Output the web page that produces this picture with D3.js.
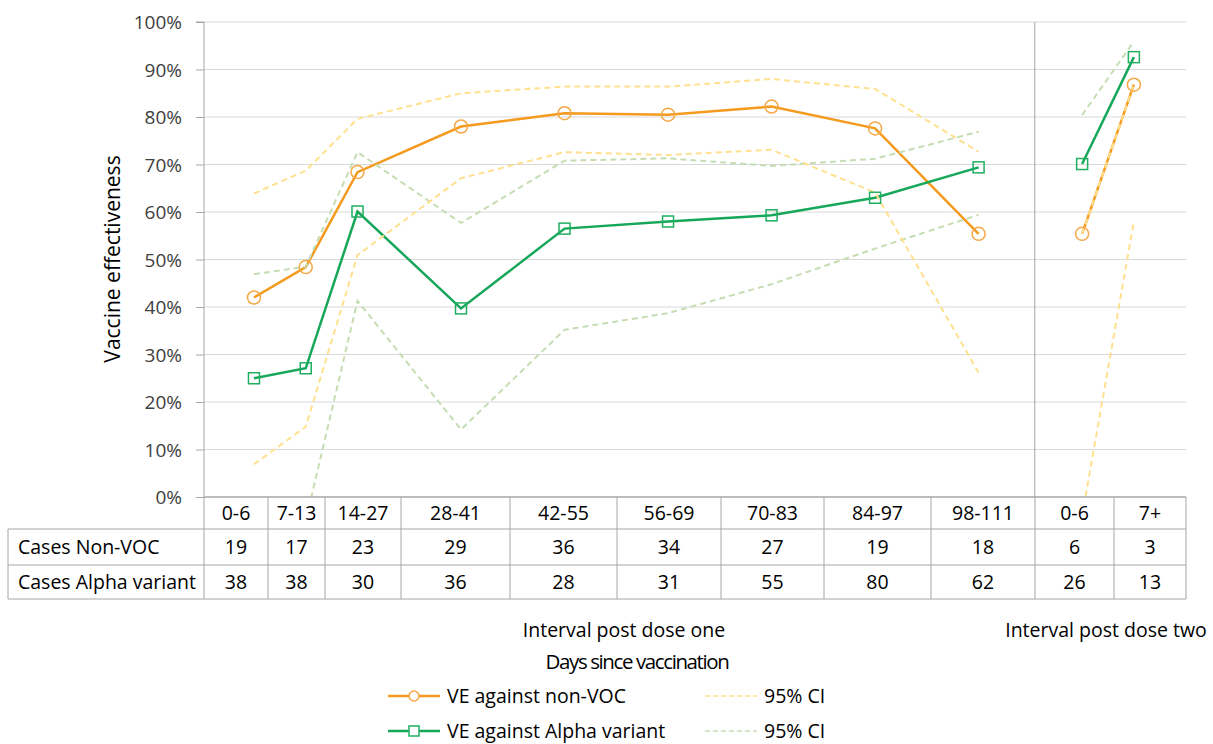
<!DOCTYPE html>
<html>
  <head>
    <meta charset="utf-8" />
    <script src="https://d3js.org/d3.v7.min.js"></script>
    <style>
        body {margin: 0; background: #fff;}
        text {font-family: "Open Sans", Lato, sans-serif;}
    </style>
  </head>
  <body>
    <svg id="viz"></svg>
    <script>
        var width = 1213, height = 744;

        // categories (days since vaccination) and their position on the day axis
        var intervals = ["0-6", "7-13", "14-27", "28-41", "42-55", "56-69", "70-83", "84-97", "98-111", "0-6", "7+"];
        var dayPos = [0, 7, 14, 28, 42, 56, 70, 84, 98, 112, 119];
        var dose = [1, 1, 1, 1, 1, 1, 1, 1, 1, 2, 2];

        // table values
        var casesNonVOC = [19, 17, 23, 29, 36, 34, 27, 19, 18, 6, 3];
        var casesAlpha = [38, 38, 30, 36, 28, 31, 55, 80, 62, 26, 13];

        // vaccine effectiveness (%)
        var veNonVOC = [42.0, 48.4, 68.4, 78.0, 80.8, 80.5, 82.2, 77.6, 55.4, 55.4, 86.8];
        var veNonVOCUpper = [63.9, 68.7, 79.6, 85.0, 86.4, 86.4, 88.0, 85.9, 72.7, 55.4, 86.8];
        var veNonVOCLower = [6.9, 14.8, 50.9, 67.1, 72.6, 72.0, 73.1, 64.1, 26.2, -4.0, 58.0];

        var veAlpha = [25.0, 27.1, 60.1, 39.7, 56.5, 58.0, 59.3, 63.0, 69.4, 70.1, 92.6];
        var veAlphaUpper = [46.9, 48.5, 72.6, 57.7, 70.8, 71.3, 69.7, 71.2, 76.9, 80.4, 95.9];
        var veAlphaLower = [-45.0, -5.0, 41.3, 14.2, 35.2, 38.7, 44.8, 52.3, 59.4, null, null];

        var yTicks = [0, 10, 20, 30, 40, 50, 60, 70, 80, 90, 100];

        // layout
        var plot = {left: 204, right: 1186, top: 22, bottom: 497};
        var colEdges = [204, 268, 325, 401, 510, 617, 721, 824, 931, 1035, 1114, 1186];
        var rowEdges = [497, 529, 565, 599];
        var tableLeft = 8;
        var doseSplitDay = 105.6;
        var fs = "19.5px";

        var orange = "#f39a1f", green = "#17a75a";
        var orangeCI = "#ffe08e", greenCI = "#c6ddb4";

        var svg = d3.select("#viz").attr("width", width).attr("height", height);

        var x = d3.scaleLinear().domain([-6.76, 126.05]).range([plot.left, plot.right]);
        var y = d3.scaleLinear().domain([0, 100]).range([plot.bottom, plot.top]);

        svg.append("defs").append("clipPath").attr("id", "clip")
            .append("rect")
            .attr("x", plot.left).attr("y", plot.top)
            .attr("width", plot.right - plot.left).attr("height", plot.bottom - plot.top);

        // gridlines
        svg.append("g").selectAll("line").data(yTicks.filter(function(d){ return d > 0; }))
            .enter().append("line")
            .attr("x1", plot.left).attr("x2", plot.right)
            .attr("y1", function(d){ return y(d); }).attr("y2", function(d){ return y(d); })
            .attr("stroke", "#d9d9d9").attr("stroke-width", 1);

        // y axis
        var yAxis = d3.axisLeft(y).tickValues(yTicks).tickSize(8).tickPadding(14)
            .tickFormat(function(d){ return d + "%"; });
        var ya = svg.append("g").attr("transform", "translate(" + plot.left + ",0)").call(yAxis);
        ya.select(".domain").attr("stroke", "#a6a6a6").attr("d", "M-8," + plot.top + "H0V" + plot.bottom);
        ya.selectAll(".tick line").attr("stroke", "#a6a6a6");
        ya.selectAll(".tick text").attr("fill", "#404040").style("font-size", "19px")
            .style("font-family", "'Open Sans', sans-serif").attr("dy", "0.35em");

        svg.append("text")
            .attr("transform", "translate(120," + 259 + ") rotate(-90)")
            .attr("text-anchor", "middle")
            .style("font-size", "21px").attr("fill", "#000")
            .text("Vaccine effectiveness");

        // separator between dose one and dose two
        svg.append("line")
            .attr("x1", x(doseSplitDay)).attr("x2", x(doseSplitDay))
            .attr("y1", plot.top).attr("y2", plot.bottom)
            .attr("stroke", "#a6a6a6").attr("stroke-width", 1);

        // series
        var idx = d3.range(intervals.length);
        var groups = [idx.filter(function(i){ return dose[i] === 1; }), idx.filter(function(i){ return dose[i] === 2; })];

        var chart = svg.append("g").attr("clip-path", "url(#clip)");

        function drawLine(values, color, w, dash) {
            var line = d3.line()
                .defined(function(i){ return values[i] !== null; })
                .x(function(i){ return x(dayPos[i]); })
                .y(function(i){ return y(values[i]); });
            groups.forEach(function(g) {
                chart.append("path")
                    .attr("d", line(g))
                    .attr("fill", "none")
                    .attr("stroke", color)
                    .attr("stroke-width", w)
                    .attr("stroke-dasharray", dash || null);
            });
        }

        drawLine(veNonVOC, orange, 2.5);
        drawLine(veAlpha, green, 2.5);
        drawLine(veAlphaUpper, greenCI, 2, "6,4");
        drawLine(veAlphaLower, greenCI, 2, "6,4");
        drawLine(veNonVOCUpper, orangeCI, 2, "6,4");
        drawLine(veNonVOCLower, orangeCI, 2, "6,4");

        // markers
        svg.append("g").selectAll("circle").data(idx).enter().append("circle")
            .attr("cx", function(i){ return x(dayPos[i]); })
            .attr("cy", function(i){ return y(veNonVOC[i]); })
            .attr("r", 6.5)
            .attr("fill", "none").attr("stroke", "#f5a845").attr("stroke-width", 1.5);

        svg.append("g").selectAll("rect").data(idx).enter().append("rect")
            .attr("x", function(i){ return x(dayPos[i]) - 5.5; })
            .attr("y", function(i){ return y(veAlpha[i]) - 5.5; })
            .attr("width", 11).attr("height", 11)
            .attr("fill", "none").attr("stroke", "#1fae62").attr("stroke-width", 1.5);

        // data table
        var table = svg.append("g");
        var gridColor = "#a6a6a6";
        rowEdges.forEach(function(ry, k) {
            table.append("line")
                .attr("x1", k === 0 ? plot.left : tableLeft).attr("x2", plot.right)
                .attr("y1", ry).attr("y2", ry)
                .attr("stroke", gridColor).attr("stroke-width", k === 0 ? 1.5 : 1);
        });
        colEdges.forEach(function(cx) {
            table.append("line")
                .attr("x1", cx).attr("x2", cx)
                .attr("y1", rowEdges[0]).attr("y2", rowEdges[3])
                .attr("stroke", gridColor).attr("stroke-width", 1);
        });
        table.append("line")
            .attr("x1", tableLeft).attr("x2", tableLeft)
            .attr("y1", rowEdges[1]).attr("y2", rowEdges[3])
            .attr("stroke", gridColor).attr("stroke-width", 1);

        var rows = [intervals, casesNonVOC, casesAlpha];
        var rowLabels = ["", "Cases Non-VOC", "Cases Alpha variant"];
        rows.forEach(function(vals, r) {
            var cy = (rowEdges[r] + rowEdges[r + 1]) / 2 + 7;
            table.selectAll(".r" + r).data(vals).enter().append("text")
                .attr("x", function(d, i){ return (colEdges[i] + colEdges[i + 1]) / 2; })
                .attr("y", cy)
                .attr("text-anchor", "middle")
                .style("font-size", fs).attr("fill", "#000")
                .text(function(d){ return d; });
            if (rowLabels[r]) {
                table.append("text")
                    .attr("x", 18).attr("y", cy)
                    .style("font-size", fs).attr("fill", "#000")
                    .text(rowLabels[r]);
            }
        });

        // axis titles below table
        svg.append("text").attr("x", 624).attr("y", 637).attr("text-anchor", "middle")
            .style("font-size", fs).attr("fill", "#000").text("Interval post dose one");
        svg.append("text").attr("x", 1106).attr("y", 637).attr("text-anchor", "middle")
            .style("font-size", fs).attr("fill", "#000").text("Interval post dose two");
        svg.append("text").attr("x", 637).attr("y", 669).attr("text-anchor", "middle")
            .style("font-size", "20.5px").attr("fill", "#000").attr("letter-spacing", "-1.4px")
            .text("Days since vaccination");

        // legend
        var legendItems = [
            {label: "VE against non-VOC", color: orange, marker: "circle", x: 388, y: 696},
            {label: "95% CI", color: orangeCI, dash: "5,3", x: 705, y: 696},
            {label: "VE against Alpha variant", color: green, marker: "square", x: 388, y: 731},
            {label: "95% CI", color: greenCI, dash: "5,3", x: 705, y: 731}
        ];
        var legend = svg.append("g");
        legendItems.forEach(function(d) {
            legend.append("line")
                .attr("x1", d.x).attr("x2", d.x + 52)
                .attr("y1", d.y).attr("y2", d.y)
                .attr("stroke", d.color).attr("stroke-width", d.dash ? 1.5 : 2.5)
                .attr("stroke-dasharray", d.dash || null);
            if (d.marker === "circle") {
                legend.append("circle").attr("cx", d.x + 26).attr("cy", d.y).attr("r", 5)
                    .attr("fill", "#fff").attr("stroke", "#f5a845").attr("stroke-width", 1.5);
            } else if (d.marker === "square") {
                legend.append("rect").attr("x", d.x + 21).attr("y", d.y - 5)
                    .attr("width", 10).attr("height", 10)
                    .attr("fill", "#fff").attr("stroke", "#1fae62").attr("stroke-width", 1.5);
            }
            legend.append("text")
                .attr("x", d.x + 59).attr("y", d.y + 7)
                .style("font-size", fs).attr("fill", "#000")
                .text(d.label);
        });
    </script>
  </body>
</html>
